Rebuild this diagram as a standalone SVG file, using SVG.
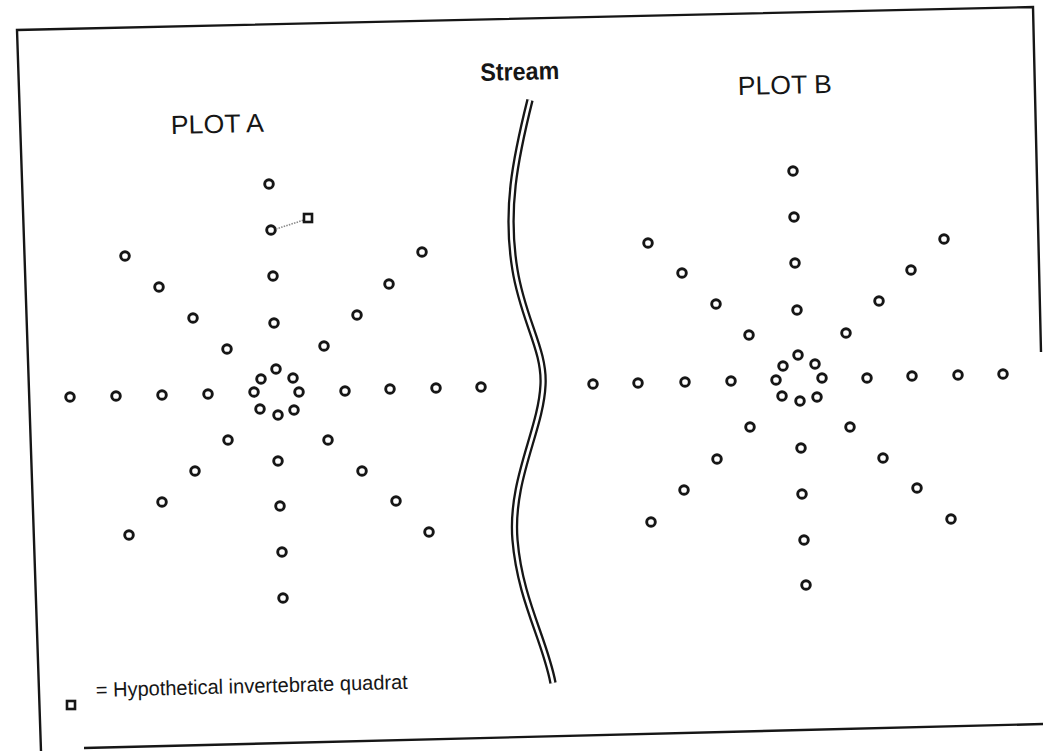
<svg xmlns="http://www.w3.org/2000/svg" width="1043" height="751" viewBox="0 0 1043 751">
<style>
.pt{fill:#fff;stroke:#161616;stroke-width:2.9}
.q{fill:#fff;stroke:#161616;stroke-width:2.6}
.frame{fill:none;stroke:#161616;stroke-width:2.4}
.lbl{font-family:"Liberation Sans",Arial,sans-serif;fill:#161616}
</style>
<rect width="1043" height="751" fill="#fff"/>
<g id="frame">
<polyline class="frame" points="1041,352 1033,7 17,30 41,751"/>
<line class="frame" x1="84" y1="748" x2="1043" y2="724"/>
</g>
<g id="stream">
<path d="M530,100 C515,160 505,210 515,270 C523,320 545,350 543,385 C541,430 510,480 515,540 C520,600 545,640 553,683" fill="none" stroke="#161616" stroke-width="7.4"/>
<path d="M530,100 C515,160 505,210 515,270 C523,320 545,350 543,385 C541,430 510,480 515,540 C520,600 545,640 553,683" fill="none" stroke="#fff" stroke-width="2.8"/>
<text class="lbl" x="520" y="80" font-size="25" font-weight="bold" text-anchor="middle" textLength="79" lengthAdjust="spacingAndGlyphs" transform="rotate(-1.4 520 80)">Stream</text>
</g>
<g id="plotA">
<text class="lbl" x="171" y="134" font-size="26" textLength="93" lengthAdjust="spacingAndGlyphs" transform="rotate(-1.4 171 134)">PLOT A</text>
<g id="plotA-points">
<circle class="pt" cx="269" cy="184" r="4.3"/>
<circle class="pt" cx="271" cy="230" r="4.3"/>
<circle class="pt" cx="273" cy="276" r="4.3"/>
<circle class="pt" cx="274" cy="323" r="4.3"/>
<circle class="pt" cx="276" cy="369" r="4.3"/>
<circle class="pt" cx="261" cy="379" r="4.3"/>
<circle class="pt" cx="293" cy="378" r="4.3"/>
<circle class="pt" cx="254" cy="392" r="4.3"/>
<circle class="pt" cx="299" cy="392" r="4.3"/>
<circle class="pt" cx="260" cy="409" r="4.3"/>
<circle class="pt" cx="294" cy="410" r="4.3"/>
<circle class="pt" cx="278" cy="415" r="4.3"/>
<circle class="pt" cx="208" cy="394" r="4.3"/>
<circle class="pt" cx="162" cy="395" r="4.3"/>
<circle class="pt" cx="116" cy="396" r="4.3"/>
<circle class="pt" cx="70" cy="397" r="4.3"/>
<circle class="pt" cx="345" cy="391" r="4.3"/>
<circle class="pt" cx="390" cy="389" r="4.3"/>
<circle class="pt" cx="436" cy="388" r="4.3"/>
<circle class="pt" cx="481" cy="387" r="4.3"/>
<circle class="pt" cx="278" cy="461" r="4.3"/>
<circle class="pt" cx="280" cy="506" r="4.3"/>
<circle class="pt" cx="282" cy="552" r="4.3"/>
<circle class="pt" cx="283" cy="598" r="4.3"/>
<circle class="pt" cx="227" cy="349" r="4.3"/>
<circle class="pt" cx="193" cy="318" r="4.3"/>
<circle class="pt" cx="159" cy="287" r="4.3"/>
<circle class="pt" cx="125" cy="256" r="4.3"/>
<circle class="pt" cx="324" cy="346" r="4.3"/>
<circle class="pt" cx="357" cy="315" r="4.3"/>
<circle class="pt" cx="389" cy="284" r="4.3"/>
<circle class="pt" cx="422" cy="252" r="4.3"/>
<circle class="pt" cx="228" cy="440" r="4.3"/>
<circle class="pt" cx="195" cy="471" r="4.3"/>
<circle class="pt" cx="162" cy="502" r="4.3"/>
<circle class="pt" cx="129" cy="535" r="4.3"/>
<circle class="pt" cx="328" cy="440" r="4.3"/>
<circle class="pt" cx="362" cy="471" r="4.3"/>
<circle class="pt" cx="396" cy="501" r="4.3"/>
<circle class="pt" cx="429" cy="532" r="4.3"/>
</g>
</g>
<g id="connectors">
<line x1="276" y1="229" x2="304" y2="220" stroke="#8a8a8a" stroke-width="1.6" stroke-dasharray="1.5 1.2"/>
</g>
<g id="quadrat">
<rect class="q" x="304" y="214" width="8" height="8"/>
</g>
<g id="plotB">
<text class="lbl" x="738" y="95" font-size="26" textLength="94" lengthAdjust="spacingAndGlyphs" transform="rotate(-1.4 738 95)">PLOT B</text>
<g id="plotB-points">
<circle class="pt" cx="793" cy="171" r="4.3"/>
<circle class="pt" cx="794" cy="217" r="4.3"/>
<circle class="pt" cx="795" cy="263" r="4.3"/>
<circle class="pt" cx="797" cy="310" r="4.3"/>
<circle class="pt" cx="798" cy="355" r="4.3"/>
<circle class="pt" cx="783" cy="366" r="4.3"/>
<circle class="pt" cx="815" cy="364" r="4.3"/>
<circle class="pt" cx="776" cy="380" r="4.3"/>
<circle class="pt" cx="822" cy="378" r="4.3"/>
<circle class="pt" cx="782" cy="396" r="4.3"/>
<circle class="pt" cx="817" cy="397" r="4.3"/>
<circle class="pt" cx="800" cy="401" r="4.3"/>
<circle class="pt" cx="731" cy="381" r="4.3"/>
<circle class="pt" cx="685" cy="382" r="4.3"/>
<circle class="pt" cx="638" cy="383" r="4.3"/>
<circle class="pt" cx="593" cy="384" r="4.3"/>
<circle class="pt" cx="867" cy="378" r="4.3"/>
<circle class="pt" cx="912" cy="376" r="4.3"/>
<circle class="pt" cx="958" cy="375" r="4.3"/>
<circle class="pt" cx="1003" cy="374" r="4.3"/>
<circle class="pt" cx="801" cy="448" r="4.3"/>
<circle class="pt" cx="802" cy="494" r="4.3"/>
<circle class="pt" cx="804" cy="540" r="4.3"/>
<circle class="pt" cx="806" cy="585" r="4.3"/>
<circle class="pt" cx="749" cy="335" r="4.3"/>
<circle class="pt" cx="716" cy="304" r="4.3"/>
<circle class="pt" cx="682" cy="273" r="4.3"/>
<circle class="pt" cx="648" cy="243" r="4.3"/>
<circle class="pt" cx="846" cy="333" r="4.3"/>
<circle class="pt" cx="879" cy="301" r="4.3"/>
<circle class="pt" cx="911" cy="270" r="4.3"/>
<circle class="pt" cx="944" cy="239" r="4.3"/>
<circle class="pt" cx="750" cy="427" r="4.3"/>
<circle class="pt" cx="717" cy="459" r="4.3"/>
<circle class="pt" cx="684" cy="490" r="4.3"/>
<circle class="pt" cx="651" cy="522" r="4.3"/>
<circle class="pt" cx="850" cy="427" r="4.3"/>
<circle class="pt" cx="883" cy="458" r="4.3"/>
<circle class="pt" cx="917" cy="488" r="4.3"/>
<circle class="pt" cx="951" cy="519" r="4.3"/>
</g>
</g>
<g id="legend">
<rect class="q" x="67" y="701" width="8" height="8"/>
<text class="lbl" x="96" y="697" font-size="20.5" textLength="312" lengthAdjust="spacingAndGlyphs" transform="rotate(-1.5 96 697)">= Hypothetical invertebrate quadrat</text>
</g>
</svg>
